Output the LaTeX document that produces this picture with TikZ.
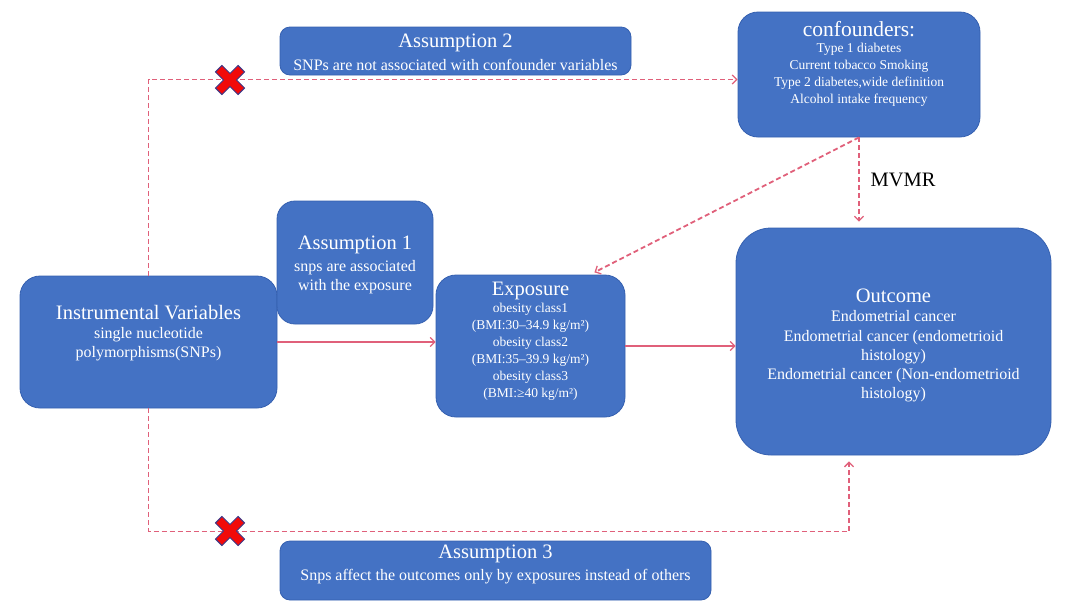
\documentclass[tikz,border=0pt]{standalone}
\usepackage{fontspec}
\setmainfont{Liberation Serif}
\usetikzlibrary{arrows.meta}
\definecolor{boxblue}{HTML}{4472C4}
\definecolor{boxedge}{HTML}{3560B0}
\definecolor{lnred}{HTML}{E0607A}
\definecolor{xred}{HTML}{F20A0A}
\definecolor{xedge}{HTML}{3C3A8A}
\newcommand{\fs}[2]{\fontsize{#1}{#2}\selectfont}
\newcommand{\redcross}[2]{%
  \begin{scope}[shift={(#1,#2)},rotate=45]
    \fill[xred,draw=xedge,line width=0.9pt]
      (4.6,16) -- (4.6,4.6) -- (16,4.6) -- (16,-4.6) -- (4.6,-4.6) -- (4.6,-16)
      -- (-4.6,-16) -- (-4.6,-4.6) -- (-16,-4.6) -- (-16,4.6) -- (-4.6,4.6) -- (-4.6,16) -- cycle;
  \end{scope}}
\begin{document}
\begin{tikzpicture}[x=1pt,y=-1pt,
  box/.style={draw=boxedge,line width=0.8pt,fill=boxblue,rounded corners=#1,inner sep=0pt},
  ttl/.style={text=white,font=\fs{20.5}{24},inner sep=0pt,align=center},
  sub/.style={text=white,font=\fs{16}{19},inner sep=0pt,align=center},
  small/.style={text=white,font=\fs{13.5}{17},inner sep=0pt,align=center},
  dashln/.style={draw=lnred,line width=1.8pt,dash pattern=on 5pt off 3pt},
  solidln/.style={draw=lnred,line width=1.5pt},
  tip/.style={-{Straight Barb[length=4.5pt,width=9pt,line width=1.3pt]}}
]
\useasboundingbox (0,0) rectangle (1080,611);

% boxes
\node[box=10pt,minimum width=351pt,minimum height=48pt] (a2box) at (455.5,51) {};
\node[box=20pt,minimum width=242pt,minimum height=125pt] (cfbox) at (859,74.5) {};
\node[box=20pt,minimum width=257pt,minimum height=132pt] (ivbox) at (148.5,342) {};
\node[box=18pt,minimum width=156pt,minimum height=123pt] (a1box) at (355,262.5) {};
\node[box=20pt,minimum width=189pt,minimum height=142pt] (exbox) at (530.5,346) {};
\node[box=35pt,minimum width=315pt,minimum height=227pt] (ocbox) at (893.5,341.5) {};
\node[box=10pt,minimum width=431pt,minimum height=59pt] (a3box) at (495.5,570.5) {};

% texts
\node[ttl] (a2t) at (455.5,43) {Assumption 2};
\node[sub] (a2s) at (455.5,65) {SNPs are not associated with confounder variables};
\node[ttl,font=\fs{21.5}{24}] (cft) at (859,29) {confounders:};
\node[small] (cfs) at (859,75) {Type 1 diabetes\\Current tobacco Smoking\\Type 2 diabetes,wide definition\\Alcohol intake frequency};
\node[ttl] (a1t) at (355,245) {Assumption 1};
\node[sub] (a1s) at (355,277) {snps are associated\\with the exposure};
\node[ttl] (ivt) at (148.5,313) {Instrumental Variables};
\node[sub] (ivs) at (148.5,344) {single nucleotide\\polymorphisms(SNPs)};
\node[ttl] (ext) at (530.5,291) {Exposure};
\node[small,font=\fs{13.5}{16.9}] (exs) at (530.5,352) {obesity class1\\(BMI:30–34.9 kg/m²)\\obesity class2\\(BMI:35–39.9 kg/m²)\\obesity class3\\(BMI:≥40 kg/m²)};
\node[ttl] (oct) at (893.5,296) {Outcome};
\node[sub,font=\fs{16}{19.3}] (ocs) at (893.5,356.5) {Endometrial cancer\\Endometrial cancer (endometrioid\\histology)\\Endometrial cancer (Non-endometrioid\\histology)};
\node[ttl] (a3t) at (495.5,554) {Assumption 3};
\node[sub] (a3s) at (495.5,577) {Snps affect the outcomes only by exposures instead of others};
\node[text=black,font=\fs{20.5}{24},inner sep=0pt] (mvmr) at (903,180) {MVMR};

% connectors
\draw[dashln,tip] (ivbox.north) |- ([yshift=-5pt]cfbox.west);
\draw[dashln,tip,shorten >=6pt] (ivbox.south) -- ++(0,123) -| ([xshift=-44.5pt]ocbox.south);
\draw[dashln,tip,shorten >=5pt] (cfbox.south) -- ([xshift=59.5pt]exbox.north);
\draw[dashln,tip,shorten >=6pt] (cfbox.south) -- (cfbox.south |- ocbox.north);
\draw[solidln,tip] (ivbox.east) -- (exbox.west |- ivbox.east);
\draw[solidln,tip] (exbox.east) -- (ocbox.west |- exbox.east);

% red crosses
\redcross{230}{80}
\redcross{230}{531}
\end{tikzpicture}
\end{document}
